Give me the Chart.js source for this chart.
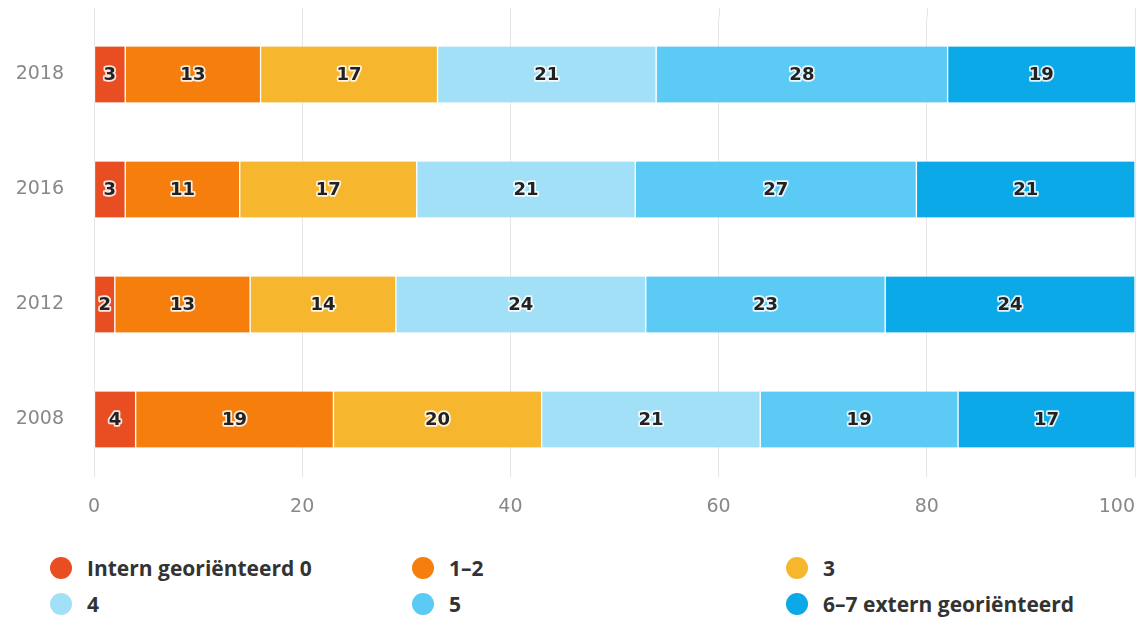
<!DOCTYPE html>
<html>
<head>
<meta charset="utf-8">
<script src="https://cdn.jsdelivr.net/npm/chart.js@4/dist/chart.umd.min.js"></script>
<style>
  html, body { margin: 0; padding: 0; background: #fff; width: 1142px; height: 617px; overflow: hidden; }
  #wrap { position: relative; width: 1142px; height: 617px; }
  #c { position: absolute; left: 0; top: 0; }
  .leg { position: absolute; font-family: "Open Sans", sans-serif; font-weight: bold; font-size: 21px; color: #333; white-space: nowrap; line-height: 24px; }
  .leg .dot { position: absolute; width: 22px; height: 22px; border-radius: 50%; left: -37px; top: 1px; }
</style>
</head>
<body>
<div id="wrap">
  <canvas id="c" width="1142" height="540"></canvas>
  <div id="legend"></div>
</div>
<script>
const categories = ["2018", "2016", "2012", "2008"];
const seriesNames = ["Intern georiënteerd 0", "1–2", "3", "4", "5", "6–7 extern georiënteerd"];
const seriesColors = ["#E94E22", "#F57E0C", "#F6B62E", "#A2E0F8", "#5BCBF6", "#0BA9E7"];
const s0 = [3, 3, 2, 4];
const s1 = [13, 11, 13, 19];
const s2 = [17, 17, 14, 20];
const s3 = [21, 21, 24, 21];
const s4 = [28, 27, 23, 19];
const s5 = [19, 21, 24, 17];
const seriesValues = [s0, s1, s2, s3, s4, s5];
const xTicks = [0, 20, 40, 60, 80, 100];

const datasets = seriesValues.map((vals, i) => ({
  label: seriesNames[i],
  data: vals,
  backgroundColor: seriesColors[i],
  borderColor: "#ffffff",
  borderWidth: { left: 1, right: 1, top: 0, bottom: 0 },
  borderSkipped: false,
  barThickness: 56
}));

const labelPlugin = {
  id: "segLabels",
  beforeDraw(chart) {
    const s = chart.scales.x;
    const items = s.getLabelItems(chart.chartArea);
    if (items.length) items[items.length - 1].options.textAlign = "right";
  },
  beforeDatasetsDraw(chart) {
    // extend vertical grid lines slightly above plot area as in the reference
    const ctx = chart.ctx, s = chart.scales.x, a = chart.chartArea;
    ctx.save();
    ctx.strokeStyle = "#e6e6e6";
    ctx.lineWidth = 1;
    xTicks.forEach(v => {
      const px = Math.round(s.getPixelForValue(v)) + 0.5;
      ctx.beginPath();
      ctx.moveTo(px, a.top - 9);
      ctx.lineTo(px, a.top);
      ctx.stroke();
    });
    ctx.restore();
  },
  afterDatasetsDraw(chart) {
    const ctx = chart.ctx;
    ctx.save();
    ctx.font = "bold 18px 'DejaVu Sans', sans-serif";
    ctx.textAlign = "center";
    ctx.textBaseline = "middle";
    ctx.lineJoin = "round";
    chart.data.datasets.forEach((ds, di) => {
      const meta = chart.getDatasetMeta(di);
      meta.data.forEach((bar, i) => {
        const p = bar.getProps(["x", "y", "base"], true);
        const right = Math.min(p.x, chart.chartArea.right);
        const mid = (p.base + right) / 2;
        const txt = String(ds.data[i]);
        ctx.lineWidth = 3.5;
        ctx.strokeStyle = "rgba(255,255,255,0.85)";
        ctx.strokeText(txt, mid, p.y + 1);
        ctx.fillStyle = "#222";
        ctx.fillText(txt, mid, p.y + 1);
      });
    });
    ctx.restore();
  }
};

new Chart(document.getElementById("c"), {
  type: "bar",
  data: { labels: categories, datasets },
  options: {
    indexAxis: "y",
    responsive: false,
    animation: false,
    layout: { padding: { top: 17, left: 0, right: 0, bottom: 0 } },
    plugins: { legend: { display: false }, tooltip: { enabled: false } },
    scales: {
      x: {
        stacked: true,
        min: 0,
        max: 100,
        afterBuildTicks: (s) => { s.ticks = xTicks.map(v => ({ value: v })); },
        afterFit: (s) => { s.paddingRight = 7; s.paddingLeft = 0; s.height = 63; },
        grid: { color: "#e6e6e6", lineWidth: 1, drawTicks: false },
        border: { display: false },
        ticks: { color: "#888", font: { family: "DejaVu Sans", size: 19 }, padding: 19 }
      },
      y: {
        stacked: true,
        afterFit: (s) => { s.width = 94; s.paddingTop = 0; s.paddingBottom = 0; },
        grid: { display: false, drawTicks: false },
        border: { display: false },
        ticks: { color: "#888", font: { family: "DejaVu Sans", size: 19 }, padding: 30 }
      }
    }
  },
  plugins: [labelPlugin]
});

// HTML legend in three columns
const legendEl = document.getElementById("legend");
const colX = [87, 449, 823];
const rowY = [556, 592];
seriesNames.forEach((name, i) => {
  const d = document.createElement("div");
  d.className = "leg";
  d.style.left = colX[i % 3] + "px";
  d.style.top = rowY[Math.floor(i / 3)] + "px";
  const dot = document.createElement("span");
  dot.className = "dot";
  dot.style.background = seriesColors[i];
  d.appendChild(dot);
  d.appendChild(document.createTextNode(name));
  legendEl.appendChild(d);
});
</script>
</body>
</html>
